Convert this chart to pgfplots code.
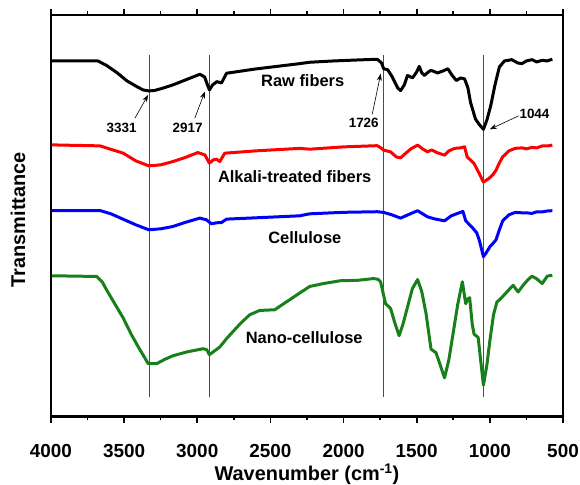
\documentclass[border=0pt]{standalone}
\usepackage{fontspec}
\setmainfont{Liberation Sans}
\usepackage{pgfplots}
\pgfplotsset{compat=1.18}
\usetikzlibrary{arrows.meta}

\definecolor{rawc}{HTML}{000000}
\definecolor{alkc}{HTML}{FF0000}
\definecolor{celc}{HTML}{0000FF}
\definecolor{nanoc}{HTML}{17801A}

\begin{document}
\begin{tikzpicture}
\begin{axis}[
  scale only axis, width=512.5bp, height=402bp,
  x dir=reverse, xmin=500, xmax=4000, ymin=68, ymax=470,
  xtick={500,1000,...,4000}, minor x tick num=1,
  ytick=\empty, tick align=outside,
  major tick length=6bp, minor tick length=3.5bp,
  every tick/.style={black, line width=1.6bp},
  axis line style={line width=2.2bp},
  /pgf/number format/assume math mode=true,
  /pgf/number format/1000 sep={},
  xticklabel style={font=\fontsize{19}{19}\selectfont\bfseries, inner sep=0pt,
    anchor=north, yshift=-21bp},
  xlabel={Wavenumber (cm\textsuperscript{-1})},
  xlabel style={at={(axis description cs:0.5,0)}, anchor=base, yshift=-64bp,
    inner sep=0pt, font=\fontsize{20}{20}\selectfont\bfseries},
  ylabel={Transmittance},
  ylabel style={at={(axis description cs:0,0.49)}, anchor=center, yshift=33bp,
    inner sep=0pt, font=\fontsize{20}{20}\selectfont\bfseries},
  clip=false,
]
% band positions
\addplot[gray!60!black, line width=0.5bp] coordinates {(3331,88) (3331,430)};
\addplot[gray!60!black, line width=0.5bp] coordinates {(2917,88) (2917,430)};
\addplot[gray!60!black, line width=0.5bp] coordinates {(1726,88) (1726,430)};
\addplot[gray!60!black, line width=0.5bp] coordinates {(1044,88) (1044,430)};

% Raw fibers
\addplot[rawc, line width=3bp, line join=round] coordinates {
(3995,424) (3679,424) (3620,419.5) (3549,412.3) (3480,404) (3413,398.3) (3370,395)
(3331,394) (3290,394.5) (3230,397) (3167,400) (3080,405) (2982,410.7) (2950,408)
(2930,400) (2917,395) (2895,400) (2866,403.3) (2834,402) (2800,411.7) (2600,416)
(2300,421.3) (2231,422.7) (2069,424) (1900,425) (1770,425.7) (1740,422) (1726,416.2)
(1698,415.2) (1667,408) (1630,397) (1610,394.3) (1585,400) (1563,409.5) (1528,407.1)
(1500,413) (1483,418.6) (1465,412) (1448,409.5) (1420,413) (1402,414.6) (1357,412)
(1320,414) (1287,416.2) (1260,410) (1229,404.4) (1200,407) (1173,406.1) (1150,397)
(1132,382.5) (1098,365.7) (1070,360) (1044,355.6) (1020,365) (994,379.2) (965,400)
(935,418) (900,424) (850,425.3) (810,422) (781,421.3) (750,424) (712,425.3) (680,423)
(642,424.7) (610,424) (573,425.7)
};

% Alkali-treated fibers
\addplot[alkc, line width=3bp, line join=round] coordinates {
(3995,340) (3665,339) (3600,336) (3506,331.7) (3420,324) (3331,319) (3250,320)
(3167,323.3) (3080,327.5) (2996,332.3) (2948,330) (2917,321.7) (2890,325) (2868,325.7)
(2846,323.3) (2812,331.7) (2600,334) (2300,336.5) (2231,335.7) (2000,338) (1770,339.2)
(1745,337) (1726,334.8) (1678,333) (1640,328) (1610,327) (1580,331) (1540,336)
(1494,339.8) (1460,336) (1426,333) (1400,335) (1357,332) (1310,329.7) (1280,334)
(1241,336.5) (1200,337) (1173,338.1) (1155,328) (1108,321.3) (1075,312) (1044,302.8)
(1010,306) (980,310) (958,314.6) (935,322) (912,328) (870,334) (827,336.5) (780,337)
(750,336) (712,337.5) (680,337) (640,339) (600,339) (573,339.8)
};

% Cellulose
\addplot[celc, line width=3bp, line join=round] coordinates {
(3995,274.3) (3665,274.3) (3590,271) (3508,265.7) (3420,260) (3331,255) (3250,256)
(3167,258.3) (3080,262.5) (2982,266.7) (2937,265) (2903,261) (2870,262) (2834,262.3)
(2800,265.7) (2600,267) (2300,269) (2231,271) (2000,272.5) (1770,273.1) (1726,272.4)
(1670,270) (1610,266.7) (1560,270) (1494,274.1) (1460,271) (1426,268) (1380,266)
(1310,264) (1264,269) (1184,273.4) (1165,264) (1120,257.3) (1090,252) (1073,245)
(1044,228.1) (1025,232) (1000,238) (975,242) (958,245) (935,255) (912,264)
(870,270) (827,272.4) (780,272) (750,272) (712,271.4) (680,273) (640,273) (600,274)
(573,274.1)
};

% Nano-cellulose
\addplot[nanoc, line width=3bp, line join=round] coordinates {
(3995,209) (3688,208.3) (3650,203) (3620,195) (3560,180) (3506,166.7) (3450,150)
(3392,135) (3335,121) (3278,121) (3220,125.5) (3165,129) (3073,132.7) (2960,136)
(2935,135) (2917,130) (2880,134) (2846,137.7) (2800,146) (2755,153.3) (2700,162)
(2641,170) (2573,174.3) (2470,175) (2420,180) (2368,185) (2300,191.7) (2231,198.3)
(2138,201.2) (2024,204) (1900,204.5) (1795,206.2) (1765,205.5) (1747,203) (1713,181)
(1690,178) (1678,176) (1650,162) (1620,149) (1595,160) (1563,177.6) (1530,196)
(1494,205.2) (1465,193) (1436,171) (1402,135.5) (1368,132) (1340,120) (1310,106.8)
(1280,125) (1252,150.6) (1220,180) (1188,203) (1165,181) (1150,186) (1138,187)
(1120,160) (1108,150.6) (1080,147.3) (1044,99.4) (1020,120) (1000,144) (975,170)
(952,182.6) (920,187) (905,189.4) (870,195) (841,199.5) (807,192.8) (770,200)
(740,205) (712,208.6) (680,206) (642,201.2) (620,206) (608,208.6) (573,209.6)
};

% band annotations
\begin{scope}[font=\fontsize{13.5}{13.5}\selectfont\bfseries]
\node at (axis cs:3517,357.3) {3331};
\node at (axis cs:3066,357.3) {2917};
\node at (axis cs:1862,362.3) {1726};
\node at (axis cs:695,371) {1044};
\end{scope}
\begin{scope}[line width=0.6bp, -{Stealth[length=7bp,width=5bp]}]
\draw (axis cs:3426,366.7) -- (axis cs:3336,390);
\draw (axis cs:3017,366.7) -- (axis cs:2948,393.3);
\draw (axis cs:1804,370.7) -- (axis cs:1746,411.2);
\draw (axis cs:804,369) -- (axis cs:1000,355.6);
\end{scope}

% sample names
\begin{scope}[font=\fontsize{16.5}{16.5}\selectfont\bfseries]
\node at (axis cs:2279,404) {Raw fibers};
\node at (axis cs:2334,308) {Alkali-treated fibers};
\node at (axis cs:2265,247) {Cellulose};
\node at (axis cs:2269,147) {Nano-cellulose};
\end{scope}

% box
\draw[line width=2.4bp] (rel axis cs:0,0) rectangle (rel axis cs:1,1);
\end{axis}
\path (current axis.south west) ++(-51bp,-68bp) (current axis.north east) ++(17bp,15bp);
\end{tikzpicture}
\end{document}
